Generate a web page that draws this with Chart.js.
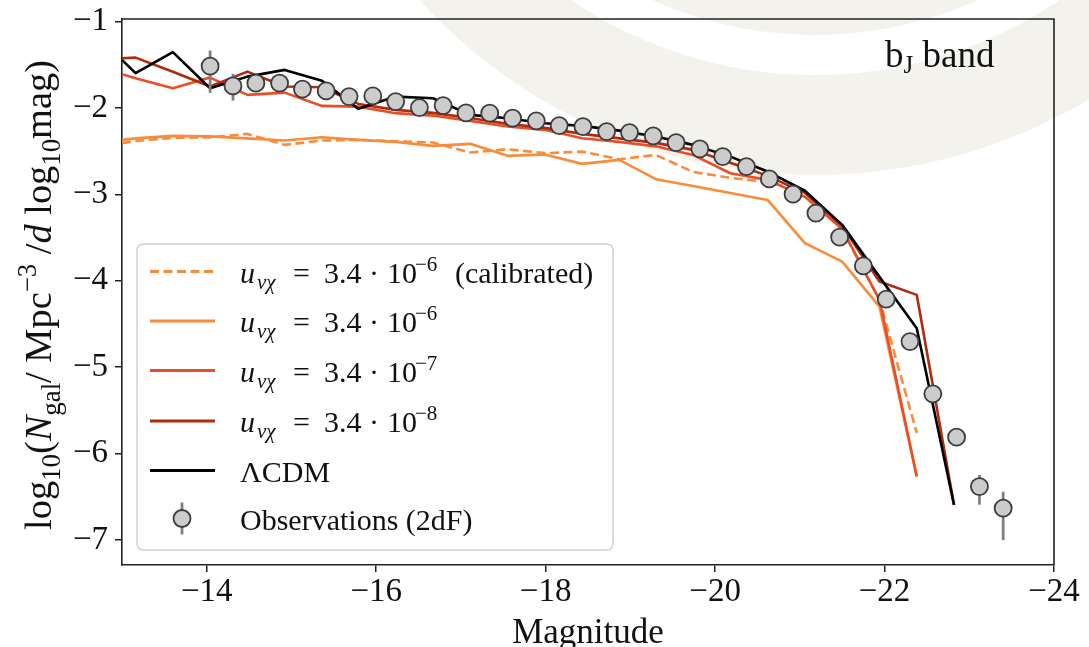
<!DOCTYPE html>
<html><head><meta charset="utf-8">
<script src="https://cdn.jsdelivr.net/npm/chart.js@4.4.1/dist/chart.umd.min.js"></script>
<style>html,body{margin:0;padding:0;background:#fff;overflow:hidden}canvas{display:block}</style>
</head><body>
<canvas id="c" width="1089" height="647"></canvas>
<script>
// ---- data ----
const modelMag = [-13.0, -13.16, -13.60, -14.04, -14.48, -14.92, -15.36, -15.79, -16.23, -16.67, -17.11, -17.55,
                  -17.99, -18.43, -18.87, -19.30, -19.74, -20.18, -20.62, -21.06, -21.50, -21.94, -22.38, -22.82];
const lcdm   = [-1.443, -1.597, -1.354, -1.771, -1.637, -1.559, -1.686, -2.010, -1.868, -1.887, -2.080, -2.118,
                -2.176, -2.207, -2.262, -2.331, -2.427, -2.563, -2.736, -2.958, -3.353, -3.955, -4.549, -6.594];
const u8     = [-1.424, -1.417, -1.580, -1.752, -1.579, -1.752, -1.760, -1.953, -2.022, -2.057, -2.115, -2.184,
                -2.230, -2.300, -2.352, -2.404, -2.485, -2.635, -2.786, -2.983, -3.365, -4.009, -4.163, -6.594];
const u7     = [-1.609, -1.657, -1.771, -1.648, -1.848, -1.822, -1.976, -1.984, -2.060, -2.088, -2.149, -2.215,
                -2.253, -2.350, -2.392, -2.444, -2.543, -2.755, -2.832, -3.029, -3.400, -4.221, -6.266];
const u6     = [-2.369, -2.352, -2.323, -2.329, -2.352, -2.377, -2.338, -2.369, -2.392, -2.439, -2.415, -2.554,
                -2.539, -2.647, -2.601, -2.824, -2.902, -2.983, -3.064, -3.565, -3.778, -4.299, -6.266];
const u6cal  = [-2.407, -2.381, -2.346, -2.340, -2.300, -2.427, -2.377, -2.369, -2.386, -2.400, -2.516, -2.477,
                -2.523, -2.505, -2.593, -2.543, -2.740, -2.809, -2.855, -2.971, -3.410, -4.221, -5.760];

const obsMag = [-14.04, -14.31, -14.58, -14.86, -15.13, -15.41, -15.68, -15.96, -16.23, -16.51, -16.79, -17.06,
                -17.34, -17.61, -17.89, -18.16, -18.44, -18.72, -18.99, -19.27, -19.54, -19.82, -20.09, -20.37,
                -20.64, -20.92, -21.19, -21.47, -21.75, -22.02, -22.30, -22.57, -22.85, -23.12, -23.40];
const obsVal = [-1.515, -1.745, -1.713, -1.713, -1.782, -1.802, -1.868, -1.860, -1.926, -1.995, -1.972, -2.057,
                -2.060, -2.118, -2.149, -2.204, -2.215, -2.273, -2.285, -2.323, -2.400, -2.473, -2.563, -2.678,
                -2.821, -2.997, -3.216, -3.495, -3.828, -4.213, -4.704, -5.309, -5.810, -6.382, -6.632];
const obsErrUp   = [0.18, 0.14, 0.05, 0.04, 0.04, 0.03, 0.03, 0.03, 0.03, 0.03, 0.03, 0.03, 0.03, 0.03, 0.03, 0.03,
                    0.03, 0.03, 0.03, 0.03, 0.03, 0.03, 0.03, 0.03, 0.03, 0.03, 0.03, 0.03, 0.03, 0.03, 0.04, 0.05,
                    0.06, 0.135, 0.19];
const obsErrDown = [0.31, 0.17, 0.05, 0.04, 0.04, 0.03, 0.03, 0.03, 0.03, 0.03, 0.03, 0.03, 0.03, 0.03, 0.03, 0.03,
                    0.03, 0.03, 0.03, 0.03, 0.03, 0.03, 0.03, 0.03, 0.03, 0.03, 0.03, 0.03, 0.03, 0.03, 0.04, 0.05,
                    0.06, 0.21, 0.37];

const xTicks = [-14, -16, -18, -20, -22, -24];
const yTicks = [-1, -2, -3, -4, -5, -6, -7];
const expLabels = ['\u22126', '\u22126', '\u22127', '\u22128'];
const suffixLabels = ['(calibrated)', '', '', ''];

// ---- styling ----
const FONT = "'Liberation Serif', 'DejaVu Serif', serif";
const C_ORANGE = '#f98c3a', C_RED = '#eb4e27', C_DARK = '#b22a0c', C_BLACK = '#000000';

const xy = (mags, vals) => vals.map((v, i) => ({x: mags[i], y: v}));
const lineDS = (label, vals, color, dash) => ({
  label, data: xy(modelMag, vals), borderColor: color, borderWidth: 2.6, borderDash: dash || [],
  pointRadius: 0, fill: false, tension: 0, borderJoinStyle: 'round'
});

function fontStr(s, it) { return (it ? 'italic ' : '') + s + 'px ' + FONT; }
function richWidth(ctx, segs, k) {
  let w = 0;
  for (const g of segs) { ctx.font = fontStr((g.s || 30) * k, g.it); w += ctx.measureText(g.t).width; }
  return w;
}
function drawRich(ctx, segs, x, y, align, k) {
  k = k || 1;
  const w = richWidth(ctx, segs, k);
  let cx = align === 'center' ? x - w / 2 : (align === 'right' ? x - w : x);
  ctx.textAlign = 'left'; ctx.textBaseline = 'alphabetic';
  for (const g of segs) {
    ctx.font = fontStr((g.s || 30) * k, g.it);
    if (g.at !== undefined) cx = x + g.at;
    ctx.fillText(g.t, cx, y + (g.dy || 0) * k);
    cx += ctx.measureText(g.t).width;
  }
}

const bgPlugin = {
  id: 'bg',
  beforeDraw(chart) {
    const ctx = chart.ctx;
    ctx.save();
    ctx.fillStyle = '#ffffff'; ctx.fillRect(0, 0, chart.width, chart.height);
    const cx = 815, cy = -360;
    const rings = [[535, '#f3f2ed'], [435, '#ffffff'], [395, '#f3f2ed']];
    for (const [r, c] of rings) { ctx.beginPath(); ctx.arc(cx, cy, r, 0, Math.PI * 2); ctx.fillStyle = c; ctx.fill(); }
    ctx.restore();
  }
};

const errPlugin = {
  id: 'err',
  beforeDatasetDraw(chart, args) {
    if (args.index !== 0) return;
    const {ctx, scales: {x, y}} = chart;
    ctx.save();
    ctx.strokeStyle = '#808080'; ctx.lineWidth = 2.8;
    obsMag.forEach((m, i) => {
      const px = x.getPixelForValue(m);
      ctx.beginPath();
      ctx.moveTo(px, y.getPixelForValue(obsVal[i] + obsErrUp[i]));
      ctx.lineTo(px, y.getPixelForValue(obsVal[i] - obsErrDown[i]));
      ctx.stroke();
    });
    ctx.restore();
  }
};

const decoPlugin = {
  id: 'deco',
  afterDatasetsDraw(chart) {
    const {ctx, chartArea: a} = chart;
    ctx.save();
    // frame top & right
    ctx.strokeStyle = '#222'; ctx.lineWidth = 1.6;
    ctx.beginPath(); ctx.moveTo(a.left, a.top); ctx.lineTo(a.right, a.top); ctx.lineTo(a.right, a.bottom); ctx.stroke();

    // legend box
    const bx = 137, by = 244, bw = 476, bh = 306, r = 7;
    ctx.beginPath();
    ctx.moveTo(bx + r, by); ctx.lineTo(bx + bw - r, by); ctx.quadraticCurveTo(bx + bw, by, bx + bw, by + r);
    ctx.lineTo(bx + bw, by + bh - r); ctx.quadraticCurveTo(bx + bw, by + bh, bx + bw - r, by + bh);
    ctx.lineTo(bx + r, by + bh); ctx.quadraticCurveTo(bx, by + bh, bx, by + bh - r);
    ctx.lineTo(bx, by + r); ctx.quadraticCurveTo(bx, by, bx + r, by);
    ctx.closePath();
    ctx.fillStyle = 'rgba(255,255,255,0.85)'; ctx.fill();
    ctx.strokeStyle = '#cfcfcf'; ctx.lineWidth = 1.4; ctx.stroke();

    const rows = [271.5, 321, 370.5, 421, 470.5, 518.5];
    const ds = chart.data.datasets;
    const order = [5, 4, 3, 2, 1]; // dataset indices in legend order
    order.forEach((di, i) => {
      const d = ds[di];
      ctx.save();
      ctx.strokeStyle = d.borderColor; ctx.lineWidth = 3; ctx.setLineDash(d.borderDash || []);
      ctx.beginPath(); ctx.moveTo(150, rows[i]); ctx.lineTo(215, rows[i]); ctx.stroke();
      ctx.restore();
      ctx.fillStyle = '#111';
      if (i < 4) {
        drawRich(ctx, [
          {t: 'u', it: 1, at: 0}, {t: '\u03BD\u03C7', s: 21, it: 1, dy: 6, at: 17},
          {t: '=', at: 53}, {t: '3.4', at: 84}, {t: '\u00B7', at: 129}, {t: '10', at: 147},
          {t: expLabels[i], s: 21, dy: -12, at: 175}, {t: suffixLabels[i], at: 215}
        ], 240, rows[i] + 11, 'left');
      } else {
        drawRich(ctx, [{t: '\u039BCDM'}], 240, rows[i] + 11, 'left');
      }
    });
    // observations legend marker
    const my = rows[5];
    ctx.strokeStyle = '#808080'; ctx.lineWidth = 2.8;
    ctx.beginPath(); ctx.moveTo(182, my - 16); ctx.lineTo(182, my + 16); ctx.stroke();
    ctx.beginPath(); ctx.arc(182, my, 8.5, 0, Math.PI * 2);
    ctx.fillStyle = '#cccccc'; ctx.fill(); ctx.strokeStyle = '#3c3c3c'; ctx.lineWidth = 1.8; ctx.stroke();
    ctx.fillStyle = '#111';
    drawRich(ctx, [{t: 'Observations (2dF)'}], 240, my + 11, 'left');

    // band label
    drawRich(ctx, [{t: 'b', s: 37}, {t: 'J', s: 25, dy: 6}, {t: ' band', s: 37}], 885, 67, 'left');

    // x title
    drawRich(ctx, [{t: 'Magnitude', s: 35}], (a.left + a.right) / 2, 643, 'center');

    // y title (rotated)
    const ySegs = [
      {t: 'log'}, {t: '10', s: 21, dy: 7}, {t: '('}, {t: 'N', it: 1}, {t: 'gal', s: 21, dy: 7},
      {t: '/ Mpc'}, {t: '\u22123', s: 21, dy: -12}, {t: ' /'}, {t: 'd', it: 1}, {t: ' log'},
      {t: '10', s: 21, dy: 7}, {t: 'mag)'}
    ];
    const k = 470 / richWidth(ctx, ySegs, 1);
    ctx.save();
    ctx.translate(51, 295); ctx.rotate(-Math.PI / 2);
    drawRich(ctx, ySegs, 0, 0, 'center', k);
    ctx.restore();
    ctx.restore();
  }
};

const tickFmt = v => String(v).replace('-', '\u2212');
const axisCommon = {
  grid: {display: true, drawOnChartArea: false, drawTicks: true, tickLength: 7, color: '#222', lineWidth: 1.5},
  border: {display: true, color: '#222', width: 1.6},
};

new Chart(document.getElementById('c'), {
  type: 'line',
  data: {
    datasets: [
      {label: 'Observations (2dF)', data: xy(obsMag, obsVal), showLine: false, pointRadius: 8.5,
       pointBackgroundColor: '#cccccc', pointBorderColor: '#3c3c3c', pointBorderWidth: 1.8},
      lineDS('\u039BCDM', lcdm, C_BLACK),
      lineDS('u 3.4e-8', u8, C_DARK),
      lineDS('u 3.4e-7', u7, C_RED),
      lineDS('u 3.4e-6', u6, C_ORANGE),
      lineDS('u 3.4e-6 (calibrated)', u6cal, C_ORANGE, [9, 4.5])
    ]
  },
  options: {
    responsive: false, animation: false, devicePixelRatio: 1,
    layout: {padding: {top: 19, right: 35, bottom: 0, left: 0}},
    plugins: {legend: {display: false}, tooltip: {enabled: false}},
    scales: {
      x: Object.assign({
        type: 'linear', min: -24, max: -13, reverse: true,
        afterBuildTicks: s => { s.ticks = xTicks.map(v => ({value: v})); },
        afterFit: s => { s.height = 82; },
        ticks: {font: {family: FONT, size: 33}, color: '#111', padding: 1, maxRotation: 0, autoSkip: false, callback: tickFmt}
      }, axisCommon),
      y: Object.assign({
        type: 'linear', min: -7.29, max: -0.97,
        afterBuildTicks: s => { s.ticks = yTicks.map(v => ({value: v})); },
        afterFit: s => { s.width = 122; s.paddingTop = 0; s.paddingBottom = 0; },
        ticks: {font: {family: FONT, size: 33, lineHeight: 0.8}, color: '#111', padding: 7, autoSkip: false, callback: tickFmt}
      }, axisCommon)
    }
  },
  plugins: [bgPlugin, errPlugin, decoPlugin]
});
</script>
</body></html>
